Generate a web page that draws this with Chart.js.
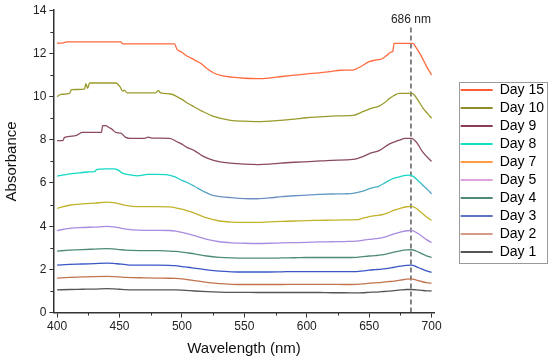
<!DOCTYPE html>
<html>
<head>
<meta charset="utf-8">
<script src="https://cdn.jsdelivr.net/npm/chart.js@4.4.1/dist/chart.umd.min.js"></script>
<style>
  html, body { margin: 0; padding: 0; background: #fff; }
  canvas { display: block; }
</style>
</head>
<body>
<canvas id="c" width="550" height="361"></canvas>
<script>
// ---------- data ----------
const dayLabels = ['Day 15', 'Day 10', 'Day 9', 'Day 8', 'Day 7', 'Day 5', 'Day 4', 'Day 3', 'Day 2', 'Day 1'];

const wl15 = [400,405,408,451,452.5,494,496,500,504,510,515,520,526,532,540,550,560,570,580,590,600,610,620,627,637,643,650,656,660,664,667,669,670,685,688,692,696,700];
const ab15 = [12.47,12.49,12.53,12.53,12.44,12.44,12.2,12.05,11.88,11.7,11.54,11.3,11.08,10.97,10.9,10.85,10.83,10.86,10.93,10.99,11.05,11.1,11.17,11.22,11.23,11.38,11.62,11.7,11.74,11.9,12.05,12.1,12.46,12.46,12.23,11.85,11.4,11.0];

const wl10 = [400,403,410,411.5,422,423,424.5,426,447,450.5,452.5,454,456,479,481,483,491,496,500,505,510,516,526,539,550,561,570,579,590,600,610,620,637,645,651,658,662,666,670,674,684,686,689,693,697,700];
const ab10 = [10.0,10.1,10.15,10.32,10.35,10.6,10.38,10.63,10.63,10.45,10.25,10.3,10.17,10.17,10.28,10.17,10.12,10.0,9.87,9.68,9.52,9.33,9.07,8.9,8.86,8.84,8.86,8.9,8.96,9.02,9.06,9.1,9.13,9.3,9.44,9.56,9.7,9.9,10.05,10.15,10.15,10.09,9.85,9.48,9.2,9.0];

const wl9 = [400,404.5,406,415,420,435.5,436.5,439,441.5,444,447,451,455,458,470,473,476,490,497,500,504,510,516,526,539,550,561,570,579,590,605,620,637,645,651,658,666,674,679,684,688,693,700];
const ab9 = [7.96,7.96,8.11,8.19,8.34,8.34,8.65,8.66,8.57,8.49,8.34,8.31,8.11,8.07,8.07,8.12,8.08,8.07,7.88,7.8,7.65,7.5,7.27,7.04,6.92,6.87,6.85,6.87,6.92,6.96,7.0,7.05,7.09,7.22,7.38,7.5,7.8,7.98,8.07,8.07,7.88,7.43,7.0];

const wl8 = [400,406,412,418,424,430,432,438,445,449,452,456,460,464,468,472,480,487,494,500,505,510,517,524,532,540,550,558,570,580,590,600,610,620,630,637,645,651,658,664,669,675,682,685,689,693,697,700];
const ab8 = [6.32,6.38,6.43,6.47,6.51,6.53,6.63,6.65,6.65,6.6,6.47,6.4,6.36,6.33,6.35,6.4,6.4,6.39,6.3,6.12,6.0,5.85,5.62,5.44,5.36,5.32,5.28,5.27,5.31,5.37,5.41,5.44,5.47,5.49,5.5,5.52,5.62,5.75,5.86,6.05,6.2,6.3,6.36,6.32,6.12,5.9,5.68,5.5];

// shared wavelength grid for the smoother lower curves
const wlLow = [400,410,420,430,440,445,450,455,460,470,480,490,495,500,505,510,520,530,540,550,560,570,580,590,600,610,620,630,640,645,650,655,660,665,670,675,680,684,688,692,696,700];
const ab7 = [4.83,4.97,5.03,5.07,5.11,5.09,5.03,4.96,4.92,4.91,4.91,4.89,4.85,4.79,4.7,4.61,4.38,4.24,4.19,4.18,4.18,4.2,4.22,4.24,4.26,4.27,4.28,4.29,4.3,4.37,4.44,4.49,4.53,4.62,4.74,4.83,4.9,4.92,4.82,4.62,4.43,4.27];
const ab5 = [3.8,3.9,3.94,3.96,3.99,3.97,3.92,3.86,3.83,3.81,3.81,3.8,3.77,3.71,3.64,3.56,3.39,3.28,3.23,3.21,3.2,3.21,3.23,3.24,3.25,3.27,3.28,3.29,3.31,3.35,3.39,3.42,3.46,3.54,3.65,3.73,3.79,3.8,3.7,3.55,3.38,3.24];
const ab4 = [2.85,2.89,2.92,2.94,2.96,2.95,2.92,2.89,2.88,2.87,2.87,2.85,2.83,2.8,2.76,2.72,2.62,2.56,2.53,2.52,2.52,2.52,2.53,2.54,2.55,2.55,2.55,2.55,2.56,2.59,2.62,2.64,2.67,2.73,2.8,2.86,2.9,2.91,2.84,2.73,2.63,2.55];
const ab3 = [2.2,2.23,2.25,2.27,2.29,2.28,2.25,2.22,2.2,2.2,2.2,2.19,2.17,2.13,2.1,2.06,1.98,1.92,1.89,1.88,1.88,1.88,1.89,1.9,1.9,1.9,1.9,1.9,1.9,1.93,1.97,1.99,2.01,2.05,2.1,2.15,2.19,2.2,2.12,2.02,1.93,1.86];
const ab2 = [1.6,1.63,1.65,1.67,1.68,1.67,1.65,1.63,1.62,1.61,1.6,1.59,1.58,1.56,1.52,1.48,1.4,1.34,1.31,1.3,1.3,1.3,1.3,1.31,1.31,1.31,1.31,1.3,1.31,1.33,1.36,1.38,1.4,1.43,1.46,1.5,1.55,1.56,1.5,1.44,1.39,1.36];
const ab1 = [1.05,1.07,1.08,1.09,1.11,1.1,1.08,1.06,1.05,1.05,1.05,1.05,1.05,1.04,1.02,1.0,0.97,0.95,0.94,0.94,0.93,0.93,0.93,0.93,0.93,0.93,0.92,0.92,0.91,0.92,0.94,0.95,0.97,0.99,1.02,1.05,1.07,1.07,1.05,1.03,1.01,1.0];

const markerWavelength = 683.5;
const markerTop = 13.3;
const markerLabel = '686 nm';

const xTicks = { min: 397, max: 702.5, major: 50, minor: 25 };
const yTicks = { min: 0, max: 14, major: 2, minor: 1 };

// ---------- styles ----------
const lineColors = ['#ff6a3f', '#9a9a2c', '#8a4a60', null, '#c2b22a', '#a98ce0', '#4f8a78', '#3a57c6', '#c2734f', '#555555'];
const legendColors = ['#ff5a3a', '#8f8f28', '#8b3c54', '#14e0c4', '#ff9c45', '#e0a2e0', '#4f8a78', '#6272c2', '#d49c84', '#555555'];

const seriesX = [wl15, wl10, wl9, wl8, wlLow, wlLow, wlLow, wlLow, wlLow, wlLow];
const seriesY = [ab15, ab10, ab9, ab8, ab7, ab5, ab4, ab3, ab2, ab1];

function day8Gradient(ctx) {
  const chart = ctx.chart;
  const { chartArea, scales } = chart;
  if (!chartArea) return '#1cc8c0';
  const y = scales.y;
  const g = chart.ctx.createLinearGradient(0, y.getPixelForValue(6.35), 0, y.getPixelForValue(5.35));
  g.addColorStop(0, '#12d9c5');
  g.addColorStop(1, '#6f8fc2');
  return g;
}

const datasets = dayLabels.map((label, i) => ({
  label,
  data: seriesX[i].map((x, k) => ({ x, y: seriesY[i][k] })),
  borderColor: i === 3 ? day8Gradient : lineColors[i],
  borderWidth: 1.3,
  pointRadius: 0,
  tension: 0.3,
  cubicInterpolationMode: 'monotone',
  fill: false
}));

datasets.push({
  label: 'marker',
  data: [{ x: markerWavelength, y: yTicks.min }, { x: markerWavelength, y: markerTop }],
  borderColor: '#444',
  borderWidth: 1.3,
  borderDash: [5, 3],
  pointRadius: 0,
  fill: false
});

const FONT = "'Liberation Sans', Arial, sans-serif";

const extrasPlugin = {
  id: 'extras',
  afterLayout(chart) {
    const lg = chart.legend;
    const shift = -10;
    lg.top += shift; lg.bottom += shift;
    (lg.legendHitBoxes || []).forEach(h => { h.top += shift; });
  },
  afterDraw(chart) {
    const { ctx, chartArea, scales } = chart;
    const x = scales.x, y = scales.y;
    ctx.save();
    // minor ticks
    ctx.strokeStyle = '#333';
    ctx.lineWidth = 1;
    ctx.beginPath();
    for (let v = Math.ceil(xTicks.min / xTicks.minor) * xTicks.minor; v <= xTicks.max; v += xTicks.minor) {
      if (v % xTicks.major === 0) continue;
      const px = Math.round(x.getPixelForValue(v)) + 0.5;
      ctx.moveTo(px, chartArea.bottom);
      ctx.lineTo(px, chartArea.bottom + 3);
    }
    for (let v = yTicks.min + yTicks.minor; v < yTicks.max; v += yTicks.major) {
      const py = Math.round(y.getPixelForValue(v)) + 0.5;
      ctx.moveTo(chartArea.left - 3, py);
      ctx.lineTo(chartArea.left, py);
    }
    ctx.stroke();
    // marker label
    ctx.fillStyle = '#222';
    ctx.font = '12px ' + FONT;
    ctx.textAlign = 'center';
    ctx.textBaseline = 'middle';
    ctx.fillText(markerLabel, x.getPixelForValue(markerWavelength), y.getPixelForValue(yTicks.max) + 9);
    // legend frame
    const hb = chart.legend.legendHitBoxes;
    if (hb && hb.length) {
      const first = hb[0], last = hb[hb.length - 1];
      const l = first.left - 2, t = first.top - 1.5;
      const b = last.top + last.height + 3.5;
      ctx.strokeStyle = '#9a9a9a';
      ctx.lineWidth = 1;
      ctx.strokeRect(Math.round(l) + 0.5, Math.round(t) + 0.5, 88, Math.round(b - t));
    }
    ctx.restore();
  }
};

new Chart(document.getElementById('c'), {
  type: 'line',
  data: { datasets },
  plugins: [extrasPlugin],
  options: {
    responsive: false,
    animation: false,
    devicePixelRatio: 1,
    layout: { padding: { top: 1, right: 2, bottom: 0, left: 0 } },
    plugins: {
      tooltip: { enabled: false },
      legend: {
        position: 'right',
        labels: {
          usePointStyle: true,
          pointStyle: 'line',
          pointStyleWidth: 32,
          padding: 4,
          color: '#111',
          font: { size: 14, family: FONT },
          generateLabels() {
            return dayLabels.map((t, i) => ({
              text: t, strokeStyle: legendColors[i], fillStyle: legendColors[i],
              lineWidth: 2, pointStyle: 'line', datasetIndex: i, hidden: false
            }));
          }
        }
      }
    },
    scales: {
      x: {
        type: 'linear',
        min: xTicks.min, max: xTicks.max,
        grid: { drawOnChartArea: false, drawTicks: true, tickLength: 5, tickColor: '#333' },
        border: { display: true, color: '#333', width: 1.5 },
        ticks: { stepSize: xTicks.major, includeBounds: false, padding: 2, color: '#222', font: { size: 12, family: FONT }, maxRotation: 0 },
        title: { display: true, text: 'Wavelength (nm)', color: '#111', font: { size: 15, family: FONT }, padding: { top: 4, bottom: 3 } }
      },
      y: {
        min: yTicks.min, max: yTicks.max,
        grid: { drawOnChartArea: false, drawTicks: true, tickLength: 4, tickColor: '#333' },
        border: { display: true, color: '#333', width: 1.5 },
        ticks: { stepSize: yTicks.major, padding: 3, color: '#222', font: { size: 12, family: FONT } },
        title: { display: true, text: 'Absorbance', color: '#111', font: { size: 15, family: FONT }, padding: { top: 3, bottom: 9 } }
      },
      yr: {
        position: 'right',
        display: true,
        grid: { display: false },
        border: { display: false },
        ticks: { display: false },
        afterFit(s) { s.width = 22; }
      }
    }
  }
});
</script>
</body>
</html>
